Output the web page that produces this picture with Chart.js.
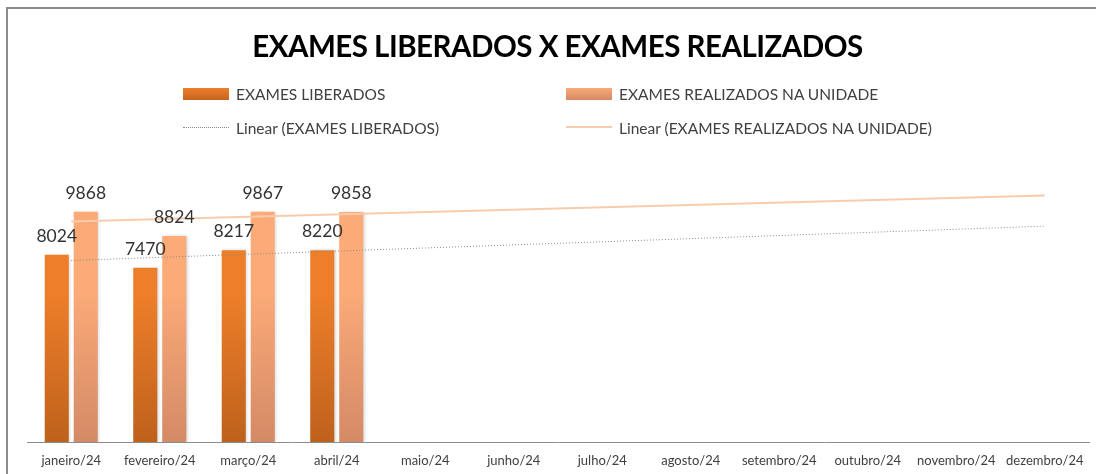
<!DOCTYPE html>
<html lang="pt-BR">
<head>
<meta charset="utf-8">
<title>Exames liberados x exames realizados</title>
<script src="https://cdn.jsdelivr.net/npm/chart.js@4.4.1/dist/chart.umd.min.js"></script>
<style>
  html, body { margin: 0; padding: 0; background: #fff; }
  .chart-wrap { position: relative; width: 1096px; height: 474px; overflow: hidden; font-family: Lato, "Open Sans", sans-serif; }
  .chart-frame { position: absolute; left: 6px; top: 7px; width: 1200px; height: 600px; border-left: 2px solid #8c8c8c; border-top: 2px solid #8c8c8c; }
  .chart-title { position: absolute; left: 0; width: 1115px; top: 28px; height: 36px; line-height: 36px; text-align: center; font-weight: 700; font-size: 29.5px; color: #000; letter-spacing: -0.5px; }
  .legend-item { position: absolute; height: 20px; line-height: 20px; font-size: 15.5px; color: #404040; white-space: nowrap; }
  .legend-item .swatch { position: absolute; left: 0; top: 4px; width: 46px; height: 12px; }
  .legend-item .line { position: absolute; left: 0; top: 9px; width: 46px; height: 0; }
  .legend-item span { position: absolute; left: 53px; top: 0; }
  canvas { position: absolute; left: 0; top: 0; }
</style>
</head>
<body>
<div class="chart-wrap">
  <div class="chart-frame"></div>
  <canvas id="Chart" width="1096" height="474"></canvas>
  <div class="chart-title">EXAMES LIBERADOS X EXAMES REALIZADOS</div>
  <div class="legend-item" style="left:183px; top:84px;">
    <div class="swatch" style="background: linear-gradient(#ee7f2a, #c4641e);"></div><span>EXAMES LIBERADOS</span>
  </div>
  <div class="legend-item" style="left:566px; top:84px;">
    <div class="swatch" style="background: linear-gradient(#fbaa78, #d48a66);"></div><span>EXAMES REALIZADOS NA UNIDADE</span>
  </div>
  <div class="legend-item" style="left:183px; top:118px;">
    <div class="line" style="border-top: 1px dotted #8a8a8a;"></div><span>Linear (EXAMES LIBERADOS)</span>
  </div>
  <div class="legend-item" style="left:566px; top:118px;">
    <div class="line" style="border-top: 2px solid #f8cbad; top:8px;"></div><span>Linear (EXAMES REALIZADOS NA UNIDADE)</span>
  </div>
</div>

<script>
"use strict";

// data
var months = ['janeiro/24', 'fevereiro/24', 'março/24', 'abril/24', 'maio/24', 'junho/24',
  'julho/24', 'agosto/24', 'setembro/24', 'outubro/24', 'novembro/24', 'dezembro/24'];
var liberados = [8024, 7470, 8217, 8220, null, null, null, null, null, null, null, null];
var realizados = [9868, 8824, 9867, 9858, null, null, null, null, null, null, null, null];
// trend lines, read at janeiro and dezembro
var trendLiberados = [7780, null, null, null, null, null, null, null, null, null, null, 9250];
var trendRealizados = [9450, null, null, null, null, null, null, null, null, null, null, 10560];

function barGradient(chart, top, bottom) {
  var area = chart.chartArea;
  if (!area) return top;
  var g = chart.ctx.createLinearGradient(0, 212, 0, area.bottom);
  g.addColorStop(0, top);
  g.addColorStop(0.35, top);
  g.addColorStop(1, bottom);
  return g;
}

// value labels above bars
var valueLabels = {
  id: 'valueLabels',
  afterDatasetsDraw: function (chart) {
    var ctx = chart.ctx;
    ctx.save();
    ctx.font = '17.5px Lato, "Open Sans", sans-serif';
    ctx.fillStyle = '#333333';
    ctx.textAlign = 'center';
    ctx.textBaseline = 'alphabetic';
    chart.data.datasets.forEach(function (ds, i) {
      if (ds.type !== 'bar') return;
      chart.getDatasetMeta(i).data.forEach(function (bar, j) {
        if (ds.data[j] == null) return;
        ctx.fillText(String(ds.data[j]), bar.x, bar.y - 13);
      });
    });
    ctx.restore();
  }
};

// soft shadow behind bars
var barShadow = {
  id: 'barShadow',
  beforeDatasetDraw: function (chart, args) {
    if (args.meta.type !== 'bar') return;
    var ctx = chart.ctx;
    ctx.save();
    ctx.shadowColor = 'rgba(0,0,0,0.18)';
    ctx.shadowBlur = 3;
    ctx.shadowOffsetX = 1.5;
  },
  afterDatasetDraw: function (chart, args) {
    if (args.meta.type !== 'bar') return;
    chart.ctx.restore();
  }
};

var ctx = document.getElementById('Chart').getContext('2d');
var chart = new Chart(ctx, {
  data: {
    labels: months,
    datasets: [{
      type: 'bar',
      label: 'EXAMES LIBERADOS',
      data: liberados,
      order: 1,
      backgroundColor: function (c) { return barGradient(c.chart, '#ee7f2a', '#be611c'); },
      categoryPercentage: 0.655,
      barPercentage: 0.83
    }, {
      type: 'bar',
      label: 'EXAMES REALIZADOS NA UNIDADE',
      data: realizados,
      order: 1,
      backgroundColor: function (c) { return barGradient(c.chart, '#fbaa78', '#d48a66'); },
      categoryPercentage: 0.655,
      barPercentage: 0.83
    }, {
      type: 'line',
      label: 'Linear (EXAMES LIBERADOS)',
      data: trendLiberados,
      order: 0,
      spanGaps: true,
      borderColor: '#8a8a8a',
      borderWidth: 1,
      borderDash: [1, 2],
      pointRadius: 0,
      fill: false
    }, {
      type: 'line',
      label: 'Linear (EXAMES REALIZADOS NA UNIDADE)',
      data: trendRealizados,
      order: 0,
      spanGaps: true,
      borderColor: '#f8cbad',
      borderWidth: 2,
      pointRadius: 0,
      fill: false
    }]
  },
  options: {
    responsive: false,
    animation: false,
    devicePixelRatio: 1,
    layout: { padding: { top: 162, left: 27, right: 7, bottom: 0 } },
    plugins: {
      legend: { display: false },
      title: { display: false },
      tooltip: { enabled: false }
    },
    scales: {
      x: {
        grid: { display: false, drawTicks: false },
        border: { display: true, color: '#8c8c8c', width: 1 },
        ticks: {
          autoSkip: false,
          maxRotation: 0,
          padding: 11,
          color: '#404040',
          font: { family: 'Lato, "Open Sans", sans-serif', size: 13 }
        },
        afterFit: function (scale) { scale.height = 32; }
      },
      y: {
        display: false,
        min: 0,
        max: 12000
      }
    }
  },
  plugins: [valueLabels, barShadow]
});
</script>
</body>
</html>
